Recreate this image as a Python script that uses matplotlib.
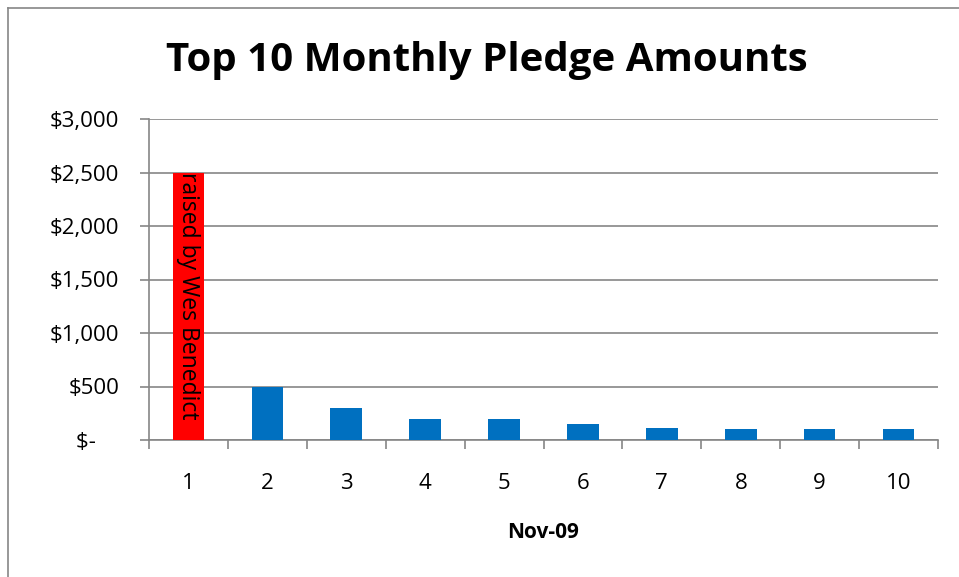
import matplotlib.pyplot as plt
from matplotlib.lines import Line2D
from matplotlib.ticker import FuncFormatter

# --- data ---
ranks = [1, 2, 3, 4, 5, 6, 7, 8, 9, 10]
amounts = [2500, 500, 300, 200, 200, 150, 115, 100, 100, 100]
bar_colors = ["#ff0000"] + ["#0070c0"] * 9
yticks = [0, 500, 1000, 1500, 2000, 2500, 3000]
title = "Top 10 Monthly Pledge Amounts"
xlabel = "Nov-09"
note = "raised by Wes Benedict"

plt.rcParams["font.family"] = ["Open Sans", "DejaVu Sans"]

W, H = 959, 577
fig = plt.figure(figsize=(W / 100, H / 100), dpi=100)
ax = fig.add_axes([149 / W, 1 - 440 / H, (938 - 149) / W, (440 - 119) / H])

ax.bar(ranks, amounts, width=0.4, color=bar_colors, zorder=3)
ax.text(ranks[0], amounts[0], note, rotation=-90, ha="center", va="top",
        fontsize=16.5, zorder=4)

ax.set_xlim(0.5, 10.5)
ax.set_ylim(0, 3000)
ax.set_yticks(yticks)
ax.yaxis.set_major_formatter(FuncFormatter(
    lambda v, p: "$-    " if v == 0 else "${:,.0f}".format(v)))
ax.set_xticks(ranks)
ax.set_xticks([r + 0.5 for r in [0] + ranks], minor=True)
ax.tick_params(axis="x", which="major", length=0, pad=24, labelsize=16)
ax.tick_params(axis="x", which="minor", length=6.5, color="#868686", width=1.2)
ax.tick_params(axis="y", length=6.5, color="#868686", width=1.2, labelsize=16, pad=15)

ax.grid(axis="y", color="#868686", linewidth=1.2, zorder=0)
for s in ["top", "right"]:
    ax.spines[s].set_visible(False)
for s in ["left", "bottom"]:
    ax.spines[s].set_color("#868686")
    ax.spines[s].set_linewidth(1.2)

ax.set_xlabel(xlabel, fontsize=15, fontweight="bold", labelpad=20)
fig.text(487 / W, 1 - 61 / H, title, ha="center", va="center",
         fontsize=29, fontweight="bold")

# chart area border
fig.add_artist(Line2D([8 / W, 8 / W], [0, 1 - 8 / H], color="#868686", lw=1.2))
fig.add_artist(Line2D([8 / W, 1], [1 - 8 / H, 1 - 8 / H], color="#868686", lw=1.2))

fig.savefig("out.png", dpi=100)
